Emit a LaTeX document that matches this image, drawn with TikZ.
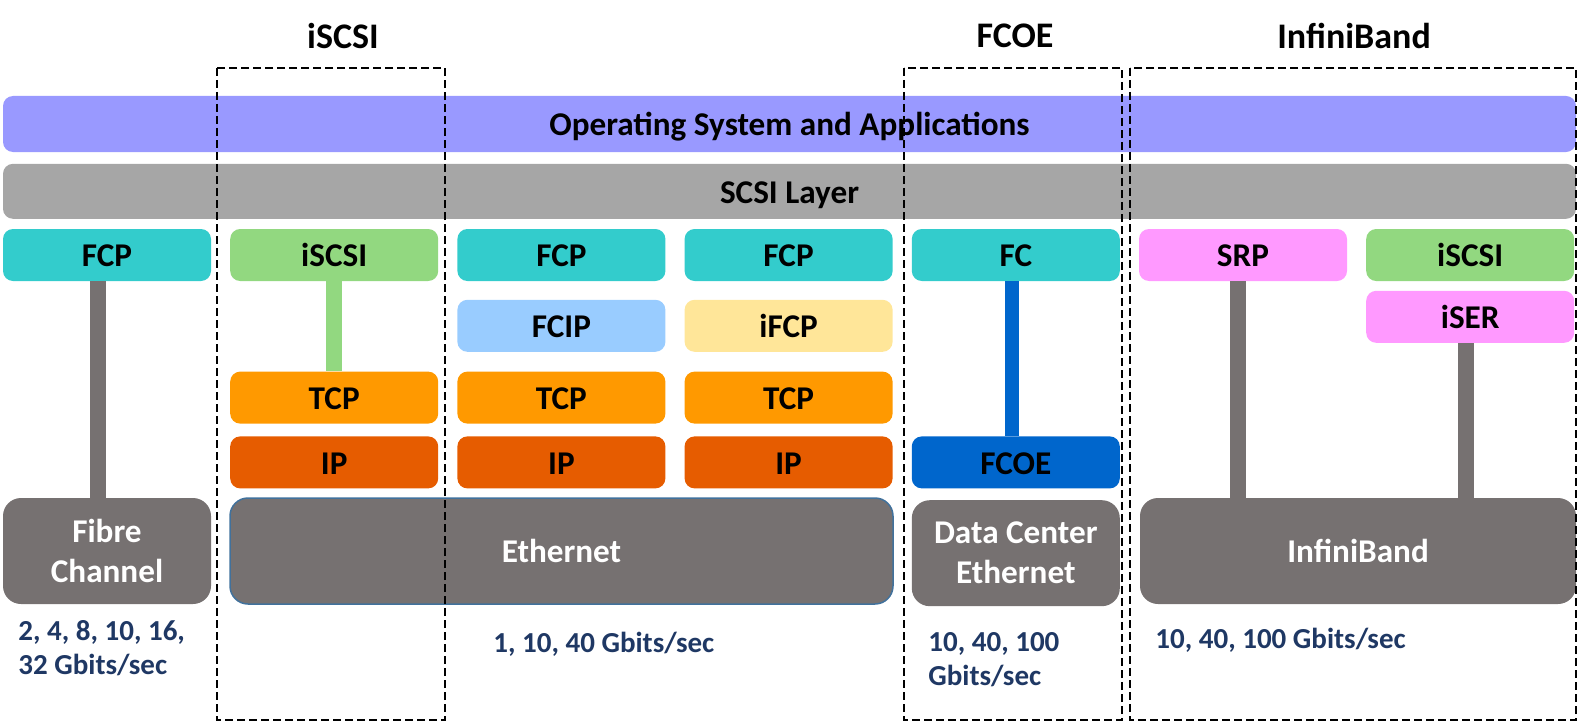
\documentclass[tikz,border=0pt]{standalone}
\usepackage{fontspec}
\setmainfont{Carlito}
\usepackage{xcolor}
\usepackage{tikz}
\usetikzlibrary{positioning,calc}

\definecolor{osblue}{HTML}{9999FF}
\definecolor{scsigray}{HTML}{A6A6A6}
\definecolor{fcpcyan}{HTML}{33CCCC}
\definecolor{iscsigreen}{HTML}{92D880}
\definecolor{tcporange}{HTML}{FF9900}
\definecolor{iporange}{HTML}{E65C00}
\definecolor{fcipblue}{HTML}{99CCFF}
\definecolor{ifcpyellow}{HTML}{FFE699}
\definecolor{fcoeblue}{HTML}{0066CC}
\definecolor{srppink}{HTML}{FF99FF}
\definecolor{linkgray}{HTML}{767171}
\definecolor{speednavy}{HTML}{1F3864}
\definecolor{ethborder}{HTML}{41719C}

\tikzset{
  layer/.style={rectangle, rounded corners=5pt, minimum width=104pt, minimum height=26pt, inner sep=0pt, text height=11.7pt, text depth=0pt, font=\fontsize{16.6}{19}\selectfont\bfseries},
  bar/.style={rectangle, rounded corners=5pt, minimum width=786.5pt, minimum height=28pt, inner sep=0pt, text height=11.7pt, text depth=0pt, font=\fontsize{16.6}{19}\selectfont\bfseries},
  wire/.style={rectangle, rounded corners=9pt, fill=linkgray, text=white, minimum width=104pt, minimum height=53pt, inner sep=0pt, align=center, font=\fontsize{16.6}{20}\selectfont\bfseries},
  link/.style={line width=8pt, draw=linkgray},
  speed/.style={anchor=west, align=left, text=speednavy, inner sep=0pt, font=\fontsize{14.5}{17}\selectfont\bfseries},
  family/.style={draw=black, line width=1pt, dash pattern=on 4pt off 2pt},
  title/.style={font=\fontsize{18}{22}\selectfont\bfseries}
}

\begin{document}
\begin{tikzpicture}[x=0.5pt, y=-0.5pt]
    \useasboundingbox (0,0) rectangle (1578,722);

    % common layers
    \node [bar, fill=osblue] (os) at (789.5,124) {Operating System and Applications};
    \node [bar, fill=scsigray, minimum height=27.5pt, below=5.5pt of os] (scsi) {SCSI Layer};

    % protocol row
    \node [layer, fill=fcpcyan] (fcpfc) at (107,255) {FCP};
    \node [layer, fill=iscsigreen, right=9.2pt of fcpfc] (iscsi) {iSCSI};
    \node [layer, fill=fcpcyan, right=9.2pt of iscsi] (fcpfcip) {FCP};
    \node [layer, fill=fcpcyan, right=9.2pt of fcpfcip] (fcpifcp) {FCP};
    \node [layer, fill=fcpcyan, right=9.2pt of fcpifcp] (fc) {FC};
    \node [layer, fill=srppink, right=9.2pt of fc] (srp) {SRP};
    \node [layer, fill=iscsigreen, right=9.2pt of srp] (iscsiib) {iSCSI};

    \node [layer, fill=fcipblue, below=9pt of fcpfcip] (fcip) {FCIP};
    \node [layer, fill=ifcpyellow, below=9pt of fcpifcp] (ifcp) {iFCP};
    \node [layer, fill=srppink, below=4.5pt of iscsiib] (iser) {iSER};

    % TCP/IP
    \node [layer, fill=tcporange, below=9.5pt of fcip] (tcpfcip) {TCP};
    \node [layer, fill=tcporange, left=9.2pt of tcpfcip] (tcpiscsi) {TCP};
    \node [layer, fill=tcporange, below=9.5pt of ifcp] (tcpifcp) {TCP};
    \node [layer, fill=iporange, below=6pt of tcpiscsi] (ipiscsi) {IP};
    \node [layer, fill=iporange, below=6pt of tcpfcip] (ipfcip) {IP};
    \node [layer, fill=iporange, below=6pt of tcpifcp] (ipifcp) {IP};
    \node [layer, fill=fcoeblue, right=9.2pt of ipifcp] (fcoe) {FCOE};

    % transports
    \node [wire] (fibre) at (107,551) {Fibre\\Channel};
    \node [wire, draw=ethborder, line width=0.75pt, minimum width=331.5pt] (ethernet) at (561.5,551) {Ethernet};
    \node [wire, below=5.5pt of fcoe] (dce) {Data Center\\Ethernet};
    \node [wire, minimum width=218pt] (infiniband) at (1358,551) {InfiniBand};

    % links
    \draw [link] ([xshift=-4.5pt]fcpfc.south) -- ([xshift=-4.5pt]fcpfc.south |- fibre.north);
    \draw [link, draw=iscsigreen] (iscsi) -- (tcpiscsi);
    \draw [link, draw=fcoeblue, line width=7pt] ([xshift=-2pt]fc.south) -- ([xshift=-2pt]fc.south |- fcoe.north);
    \draw [link] ([xshift=-2.75pt]srp.south) -- ([xshift=-2.75pt]srp.south |- infiniband.north);
    \draw [link] ([xshift=-2pt]iser.south) -- ([xshift=-2pt]iser.south |- infiniband.north);

    % speeds
    \node [speed] (spfc) at (18,648) {2, 4, 8, 10, 16,\\32 Gbits/sec};
    \node [speed] (speth) at (493,644) {1, 10, 40 Gbits/sec};
    \node [speed] (spdce) at (928,659.5) {10, 40, 100\\Gbits/sec};
    \node [speed] (spib) at (1155,640) {10, 40, 100 Gbits/sec};

    % families
    \draw [family] (217,68) rectangle (445,720);
    \draw [family] (904,68) rectangle (1122,720);
    \draw [family] (1130,68) rectangle (1576,720);
    \node [title] (ttiscsi) at (343,36) {iSCSI};
    \node [title] (ttfcoe) at (1015,36) {FCOE};
    \node [title] (ttib) at (1354,36) {InfiniBand};
\end{tikzpicture}
\end{document}
